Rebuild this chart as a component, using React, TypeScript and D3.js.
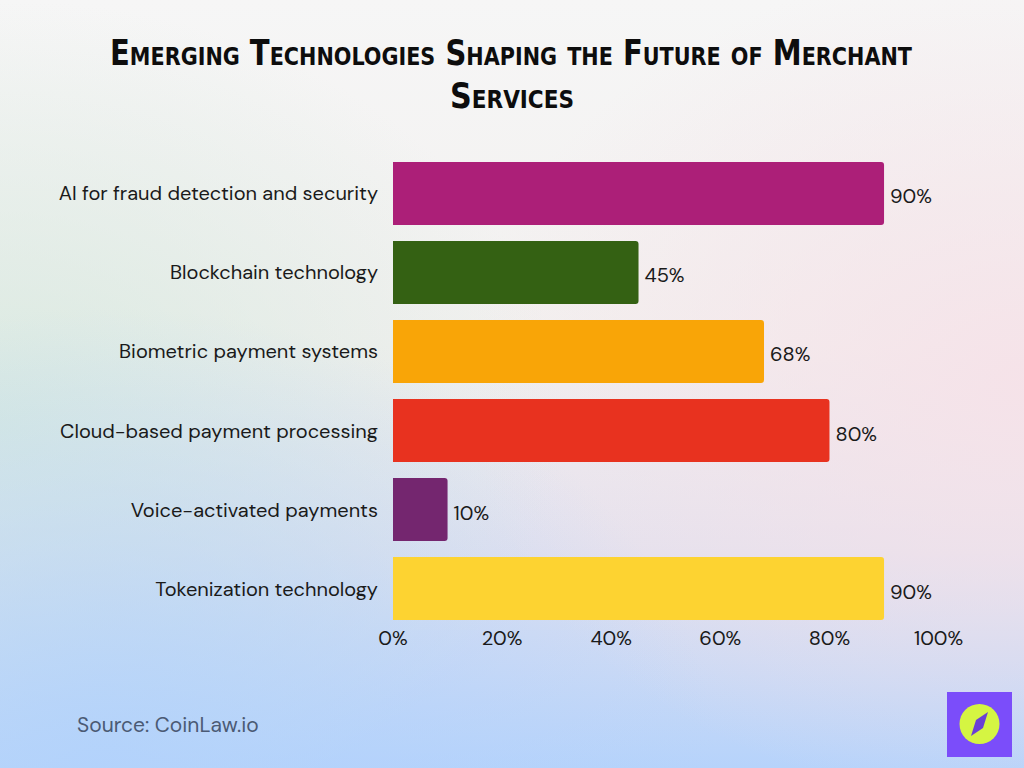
import React from "react";
import * as d3 from "d3";

const categories = [
  "AI for fraud detection and security",
  "Blockchain technology",
  "Biometric payment systems",
  "Cloud-based payment processing",
  "Voice-activated payments",
  "Tokenization technology",
];
const values = [90, 45, 68, 80, 10, 90];
const barColors = ["#ac1f78", "#346113", "#f9a507", "#e8321f", "#74266f", "#fdd331"];
const tickValues = [0, 20, 40, 60, 80, 100];
const titleLines = ["Emerging Technologies Shaping the Future of Merchant", "Services"];
const sourceText = "Source: CoinLaw.io";

const W = 1024;
const H = 768;

export default function App() {
  const x = d3.scaleLinear().domain([0, 100]).range([393, 938.6]);
  const y = d3
    .scaleBand<string>()
    .domain(categories)
    .range([154, 628])
    .paddingInner(16 / 79)
    .paddingOuter(0.1);
  const bw = y.bandwidth();
  const r = 3;

  const barPath = (x0: number, x1: number, y0: number, h: number) => {
    const p = d3.path();
    p.moveTo(x0, y0);
    p.lineTo(x1 - r, y0);
    p.quadraticCurveTo(x1, y0, x1, y0 + r);
    p.lineTo(x1, y0 + h - r);
    p.quadraticCurveTo(x1, y0 + h, x1 - r, y0 + h);
    p.lineTo(x0, y0 + h);
    p.closePath();
    return p.toString();
  };

  const font = "'DM Sans', Inter, 'Open Sans', sans-serif";
  const titleStyle: React.CSSProperties = {
    fontVariant: "small-caps",
    fontFamily: "'DejaVu Sans Condensed', 'DejaVu Sans', sans-serif",
    fontWeight: 900,
    fontSize: 35,
  };

  return (
    <div style={{ position: "absolute", left: 0, top: 0, width: W, height: H }}>
      <svg width={W} height={H} viewBox={`0 0 ${W} ${H}`} style={{ display: "block" }}>
        <defs>
          <linearGradient id="bgv" x1="0" y1="0" x2="0" y2="1">
            <stop offset="0" stopColor="#f6f6f6" />
            <stop offset="0.45" stopColor="#f2f0ef" />
            <stop offset="0.72" stopColor="#e3e1ee" />
            <stop offset="1" stopColor="#b6d3fb" />
          </linearGradient>
          <radialGradient id="bgGreen" cx="0" cy="0.55" r="0.55">
            <stop offset="0" stopColor="#d6e9df" stopOpacity="0.9" />
            <stop offset="1" stopColor="#d6e9df" stopOpacity="0" />
          </radialGradient>
          <radialGradient id="bgPink" cx="1" cy="0.5" r="0.55">
            <stop offset="0" stopColor="#f6e1e8" stopOpacity="0.9" />
            <stop offset="1" stopColor="#f6e1e8" stopOpacity="0" />
          </radialGradient>
          <radialGradient id="bgBlue" cx="0.1" cy="1" r="0.6">
            <stop offset="0" stopColor="#b2d2fc" stopOpacity="0.9" />
            <stop offset="1" stopColor="#b2d2fc" stopOpacity="0" />
          </radialGradient>
        </defs>
        <rect x={0} y={0} width={W} height={H} fill="url(#bgv)" />
        <rect x={0} y={0} width={W} height={H} fill="url(#bgGreen)" />
        <rect x={0} y={0} width={W} height={H} fill="url(#bgPink)" />
        <rect x={0} y={0} width={W} height={H} fill="url(#bgBlue)" />

        <text
          x={511}
          y={65}
          textAnchor="middle"
          fill="#0d0d0d"
          style={titleStyle}
          textLength={802}
          lengthAdjust="spacingAndGlyphs"
        >
          {titleLines[0]}
        </text>
        <text
          x={512}
          y={108}
          textAnchor="middle"
          fill="#0d0d0d"
          style={titleStyle}
          textLength={124}
          lengthAdjust="spacingAndGlyphs"
        >
          {titleLines[1]}
        </text>

        {categories.map((c, i) => {
          const yy = y(c)!;
          return (
            <g key={c}>
              <path d={barPath(x(0), x(values[i]), yy, bw)} fill={barColors[i]} />
              <text
                x={378}
                y={yy + bw / 2}
                dy="0.35em"
                textAnchor="end"
                fontFamily={font}
                fontSize={20}
                fill="#1a1a1a"
              >
                {c}
              </text>
              <text
                x={x(values[i]) + 6}
                y={yy + bw / 2 + 3}
                dy="0.35em"
                textAnchor="start"
                fontFamily={font}
                fontSize={20}
                fill="#1a1a1a"
              >
                {values[i]}%
              </text>
            </g>
          );
        })}

        {tickValues.map((t) => (
          <text
            key={t}
            x={x(t)}
            y={638}
            dy="0.35em"
            textAnchor="middle"
            fontFamily={font}
            fontSize={20}
            fill="#1a1a1a"
          >
            {t}%
          </text>
        ))}

        <text x={77} y={732} fontFamily={font} fontSize={21} fill="#4b5a74">
          {sourceText}
        </text>

        <g>
          <rect x={947} y={692} width={65} height={65} fill="#7b4dfa" />
          <circle cx={979.5} cy={724} r={20} fill="#d5f542" />
          <path d="M 988 712 L 983 728 L 971 736 L 976 720 Z" fill="#6a3fd6" />
        </g>
      </svg>
    </div>
  );
}
